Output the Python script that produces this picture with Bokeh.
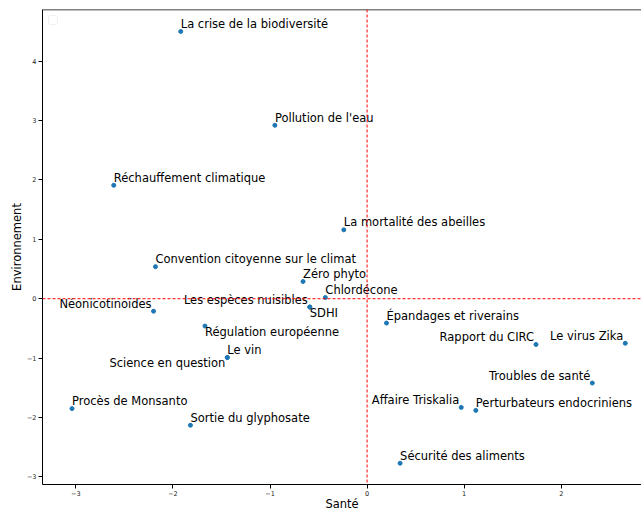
from bokeh.plotting import figure
from bokeh.models import ColumnDataSource, Span, BoxAnnotation, FixedTicker, Range1d
from bokeh.core.properties import value
from bokeh.embed import file_html
from bokeh.resources import INLINE

# ---- data ----
labels = ["La crise de la biodiversité", "Pollution de l'eau", "Réchauffement climatique",
          "La mortalité des abeilles", "Convention citoyenne sur le climat", "Zéro phyto",
          "Chlordécone", "Les espèces nuisibles", "SDHI", "Néonicotinoïdes",
          "Régulation européenne", "Le vin", "Science en question", "Procès de Monsanto",
          "Sortie du glyphosate", "Épandages et riverains", "Rapport du CIRC", "Le virus Zika",
          "Troubles de santé", "Affaire Triskalia", "Perturbateurs endocriniens",
          "Sécurité des aliments"]
sante = [-1.92, -0.95, -2.61, -0.24, -2.18, -0.66, -0.43, -0.59, -0.59, -2.20,
         -1.67, -1.44, -1.44, -3.04, -1.82, 0.20, 1.74, 2.66, 2.32, 0.97, 1.12, 0.34]
environnement = [4.50, 2.92, 1.91, 1.16, 0.54, 0.29, 0.02, -0.14, -0.14, -0.21,
                 -0.46, -0.99, -0.99, -1.85, -2.13, -0.41, -0.77, -0.75, -1.42, -1.83,
                 -1.88, -2.77]
x_ticks = [-3, -2, -1, 0, 1, 2]
y_ticks = [-3, -2, -1, 0, 1, 2, 3, 4]
X_RANGE = (-3.344, 2.827)
Y_RANGE = (-3.128, 4.87)

# label placement (style)
h_align = ["left", "left", "left", "left", "left", "left", "left", "right", "left", "right",
           "left", "left", "right", "left", "left", "left", "right", "right", "right", "right",
           "left", "left"]
v_align = ["alphabetic", "alphabetic", "alphabetic", "alphabetic", "alphabetic", "alphabetic",
           "alphabetic", "alphabetic", "top", "alphabetic", "top", "alphabetic", "top",
           "alphabetic", "alphabetic", "alphabetic", "alphabetic", "alphabetic", "alphabetic",
           "alphabetic", "alphabetic", "alphabetic"]
dy = [(-7.5 if v == "alphabetic" else -1.5) for v in v_align]
dx = [(-2 if h == "right" else 0) for h in h_align]

src = ColumnDataSource(dict(x=sante, y=environnement, t=labels, ha=h_align, va=v_align,
                            dy=dy, dx=dx))

p = figure(width=641, height=514, output_backend="svg", toolbar_location=None,
           x_range=Range1d(*X_RANGE), y_range=Range1d(*Y_RANGE),
           min_border_left=42, min_border_right=0, min_border_top=9, min_border_bottom=30)
p.background_fill_color = "white"
p.border_fill_color = "white"
p.outline_line_color = None
p.xgrid.visible = False
p.ygrid.visible = False

for ax, ticks in ((p.xaxis[0], x_ticks), (p.yaxis[0], y_ticks)):
    ax.ticker = FixedTicker(ticks=ticks)
    ax.minor_tick_line_color = None
    ax.major_tick_in = 0
    ax.major_tick_out = 4
    ax.major_label_text_font = "DejaVu Sans"
    ax.major_label_text_font_size = "6.5px"
    ax.major_label_text_color = "#222222"
    ax.major_label_standoff = 2
    ax.axis_line_color = "black"
    ax.major_tick_line_color = "black"
    ax.axis_label_text_font = "DejaVu Sans"
    ax.axis_label_text_font_size = "11.5px"
    ax.axis_label_text_font_style = "normal"
    ax.axis_label_text_color = "black"

p.xaxis.axis_label = "Santé"
p.yaxis.axis_label = "Environnement"
p.xaxis.axis_label_standoff = -2
p.yaxis.axis_label_standoff = 0

# top spine
p.add_layout(Span(location=Y_RANGE[1], dimension="width", line_color="black", line_width=1.5))

# reference lines
p.add_layout(Span(location=0, dimension="width", line_color="red", line_dash="3 2", line_width=1))
p.add_layout(Span(location=0, dimension="height", line_color="red", line_dash="3 2", line_width=1))

# empty legend box
px_x = (X_RANGE[1] - X_RANGE[0]) / 599.0
px_y = (Y_RANGE[1] - Y_RANGE[0]) / 475.0
p.add_layout(BoxAnnotation(left=X_RANGE[0] + 6 * px_x, right=X_RANGE[0] + 15 * px_x,
                           top=Y_RANGE[1] - 6 * px_y, bottom=Y_RANGE[1] - 15 * px_y,
                           fill_color="white", fill_alpha=1, line_color="#cccccc",
                           line_width=1, border_radius=2))

p.scatter("x", "y", source=src, size=4, fill_color="#1f77b4", line_color="#1f77b4")
p.text("x", "y", text="t", source=src, text_align="ha", text_baseline="va",
       x_offset="dx", y_offset="dy", text_font=value("DejaVu Sans"), text_font_size="11.5px",
       text_color="black")

open("out.html", "w").write(file_html(p, INLINE))
